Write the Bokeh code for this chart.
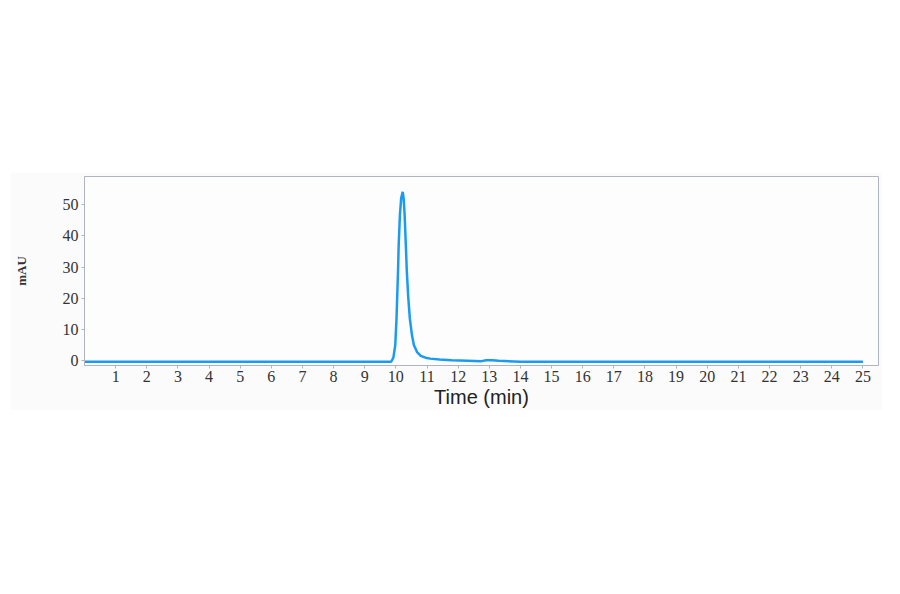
from bokeh.plotting import figure
from bokeh.models import FixedTicker, Range1d, Spacer
from bokeh.layouts import column, row
from bokeh.embed import file_html
from bokeh.resources import INLINE

# Chromatogram trace
time_min = [0, 9.85, 9.92, 9.98, 10.02, 10.07, 10.09, 10.13, 10.17, 10.22, 10.25,
            10.28, 10.32, 10.35, 10.40, 10.45, 10.52, 10.58, 10.68, 10.8, 10.95,
            11.1, 11.4, 11.8, 12.3, 12.75, 12.9, 13.1, 13.3, 14, 25]
mau = [-0.3, -0.3, 1.0, 5.0, 13.4, 29.0, 37.0, 46.7, 52.0, 54.1, 52.0,
       47.0, 37.0, 29.0, 20.0, 13.4, 8.0, 5.0, 2.8, 1.6, 1.0,
       0.7, 0.4, 0.2, 0.05, -0.1, 0.15, 0.2, 0.0, -0.3, -0.3]

x_ticks = list(range(1, 26))
y_ticks = [0, 10, 20, 30, 40, 50]

p = figure(width=872, height=238, output_backend="svg", toolbar_location=None,
           x_range=Range1d(0, 25.5), y_range=Range1d(-1.5, 59))
p.min_border_left = 74
p.min_border_right = 4
p.min_border_top = 4
p.min_border_bottom = 43
p.background_fill_color = "#fdfdfd"
p.border_fill_color = "#fbfbfb"
p.outline_line_color = "#b0b4bf"
p.outline_line_width = 1
p.xgrid.visible = False
p.ygrid.visible = False

p.line(time_min, mau, line_color="#1a9bf2", line_width=2.5)

ax = p.xaxis[0]
ax.ticker = FixedTicker(ticks=x_ticks)
ax.axis_label = "Time (min)"
ax.axis_label_text_font = "Liberation Sans"
ax.axis_label_text_font_size = "20px"
ax.axis_label_text_font_style = "normal"
ax.axis_label_text_color = "#222222"
ax.axis_label_standoff = 1
ax.major_label_text_font = "Liberation Serif"
ax.major_label_text_font_size = "16px"
ax.major_label_text_color = "#333333"
ax.major_label_standoff = 2
ax.major_tick_out = 3
ax.major_tick_in = 0
ax.minor_tick_out = 0
ax.minor_tick_in = 0
ax.axis_line_color = "#b0b4bf"
ax.major_tick_line_color = "#b0b4bf"

ay = p.yaxis[0]
ay.ticker = FixedTicker(ticks=y_ticks)
ay.axis_label = "mAU"
ay.axis_label_text_font = "Liberation Serif"
ay.axis_label_text_font_size = "13px"
ay.axis_label_text_font_style = "bold"
ay.axis_label_text_color = "#333333"
ay.axis_label_standoff = 31
ay.major_label_text_font = "Liberation Serif"
ay.major_label_text_font_size = "16px"
ay.major_label_text_color = "#333333"
ay.major_label_standoff = 3
ay.major_tick_out = 3
ay.major_tick_in = 0
ay.minor_tick_out = 0
ay.minor_tick_in = 0
ay.axis_line_color = "#b0b4bf"
ay.major_tick_line_color = "#b0b4bf"

layout = column(Spacer(height=172), row(Spacer(width=10), p))
open("out.html", "w").write(file_html(layout, INLINE))
